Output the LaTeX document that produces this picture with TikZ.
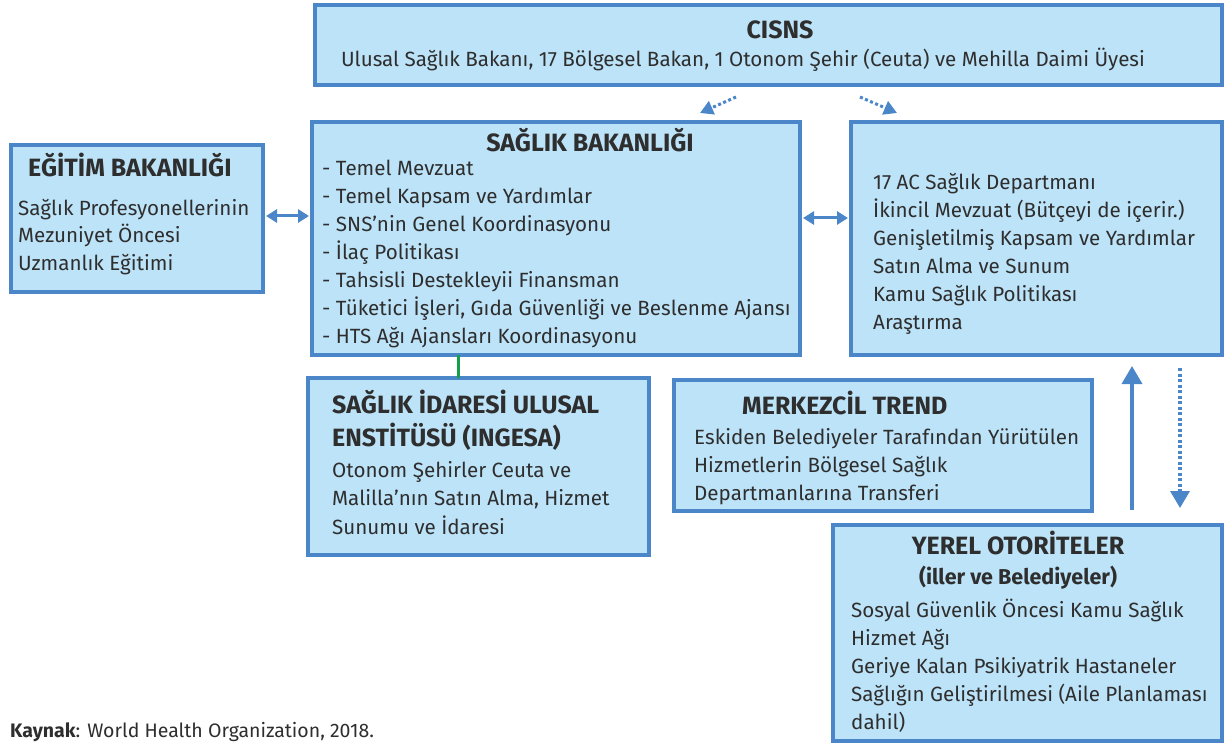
\documentclass[tikz,border=0pt]{standalone}
\usepackage{fontspec}
\setmainfont{Fira Sans}
\usetikzlibrary{arrows.meta}
\definecolor{boxfill}{HTML}{BDE3F8}
\definecolor{boxline}{HTML}{4A86C8}
\definecolor{ink}{HTML}{2E2E2E}
\definecolor{linkgreen}{HTML}{13A04A}
\begin{document}
\begin{tikzpicture}[x=1pt,y=-1pt,
  panel/.style={draw=boxline, fill=boxfill, line width=4pt, anchor=north west,
    inner sep=0pt, outer sep=0pt},
  % multi-line texts are placed by the baseline of their last line
  body/.style={anchor=base west, inner sep=0pt, text=ink, align=left,
    font=\fontsize{20.6}{28}\selectfont},
  head/.style={anchor=base, inner sep=0pt, text=ink,
    font=\fontsize{25}{33}\selectfont\bfseries},
  headl/.style={head, anchor=base west, align=left},
  dbl/.style={draw=boxline, line width=3pt,
    {Triangle[length=11pt,width=13pt]}-{Triangle[length=11pt,width=13pt]}},
  dotarrow/.style={draw=boxline, line width=3pt, dash pattern=on 3pt off 2.5pt,
    -{Triangle[length=13pt,width=14pt]}},
  solidarrow/.style={draw=boxline, line width=3.5pt,
    -{Triangle[length=18pt,width=20pt]}},
]
\useasboundingbox (0,0) rectangle (1226,746);

% boxes
\node[panel, minimum width=907pt, minimum height=80pt]  (cisns)  at (315,5)   {};
\node[panel, minimum width=488pt, minimum height=233pt] (saglik) at (312,122) {};
\node[panel, minimum width=252pt, minimum height=147pt] (egitim) at (11,145)  {};
\node[panel, minimum width=371pt, minimum height=233pt] (ac)     at (851,122) {};
\node[panel, minimum width=341pt, minimum height=177pt] (ingesa) at (308,378) {};
\node[panel, minimum width=418pt, minimum height=131pt] (merkez) at (674,380) {};
\node[panel, minimum width=389pt, minimum height=216pt] (yerel)  at (833,525) {};

% CISNS
\node[head] (cisnsT) at (780,38.5) {CISNS};
\node[body, anchor=base] (cisnsB) at (743,67)
  {Ulusal Sağlık Bakanı, 17 Bölgesel Bakan, 1 Otonom Şehir (Ceuta) ve Mehilla Daimi Üyesi};

% Sağlık Bakanlığı
\node[head] (saglikT) at (590,151.5) {SAĞLIK BAKANLIĞI};
\node[body] (saglikB) at (322,343) {- Temel Mevzuat\\
- Temel Kapsam ve Yardımlar\\
- SNS’nin Genel Koordinasyonu\\
- İlaç Politikası\\
- Tahsisli Destekleyii Finansman\\
- Tüketici İşleri, Gıda Güvenliği ve Beslenme Ajansı\\
- HTS Ağı Ajansları Koordinasyonu};

% Eğitim Bakanlığı
\node[headl] (egitimT) at (28,176.5) {EĞİTİM BAKANLIĞI};
\node[body, font=\fontsize{20.6}{27.5}\selectfont] (egitimB) at (18,270)
  {Sağlık Profesyonellerinin\\Mezuniyet Öncesi\\Uzmanlık Eğitimi};

% 17 AC
\node[body] (acB) at (873,329) {17 AC Sağlık Departmanı\\
İkincil Mevzuat (Bütçeyi de içerir.)\\
Genişletilmiş Kapsam ve Yardımlar\\
Satın Alma ve Sunum\\
Kamu Sağlık Politikası\\
Araştırma};

% INGESA
\node[headl] (ingesaT) at (332,446.5) {SAĞLIK İDARESİ ULUSAL\\ENSTİTÜSÜ (INGESA)};
\node[body, font=\fontsize{20.6}{28.5}\selectfont] (ingesaB) at (332,534)
  {Otonom Şehirler Ceuta ve\\Malilla’nın Satın Alma, Hizmet\\Sunumu ve İdaresi};

% Merkezcil trend
\node[headl] (merkezT) at (742,414.5) {MERKEZCİL TREND};
\node[body] (merkezB) at (694,500)
  {Eskiden Belediyeler Tarafından Yürütülen\\Hizmetlerin Bölgesel Sağlık\\Departmanlarına Transferi};

% Yerel otoriteler
\node[head] (yerelT) at (1018,554.5) {YEREL OTORİTELER};
\node[head, font=\fontsize{21.5}{24}\selectfont\bfseries] (yerelS) at (1018,584.5) {(iller ve Belediyeler)};
\node[body] (yerelB) at (851,729) {Sosyal Güvenlik Öncesi Kamu Sağlık\\
Hizmet Ağı\\
Geriye Kalan Psikiyatrik Hastaneler\\
Sağlığın Geliştirilmesi (Aile Planlaması\\
dahil)};

% source line
\node[body, font=\fontsize{19.5}{22}\selectfont] (kaynak) at (10,737)
  {\textbf{Kaynak}: World Health Organization, 2018.};

% connectors
\draw[dbl] ([xshift=3pt]egitim.east |- 0,216) -- ([xshift=-3pt]saglik.west |- 0,216);
\draw[dbl] ([xshift=3pt]saglik.east |- 0,218) -- ([xshift=-3pt]ac.west |- 0,218);

\coordinate (cisnsL) at (736,97);
\coordinate (saglikR) at (700,113);
\coordinate (cisnsR) at (860,97);
\coordinate (acL) at (897,113);
\draw[dotarrow] (cisnsL) -- (saglikR);
\draw[dotarrow] (cisnsR) -- (acL);

\coordinate (yerelU) at (1132,510);
\coordinate (acU) at (1132,366);
\coordinate (acD) at (1180,368);
\coordinate (yerelD) at (1180,508);
\draw[solidarrow] (yerelU) -- (acU);
\draw[dotarrow, line width=3.5pt, -{Triangle[length=17pt,width=19pt]}] (acD) -- (yerelD);

\draw[draw=linkgreen, line width=3pt] (saglik.south -| 458,0) -- (ingesa.north -| 458,0);
\end{tikzpicture}
\end{document}
